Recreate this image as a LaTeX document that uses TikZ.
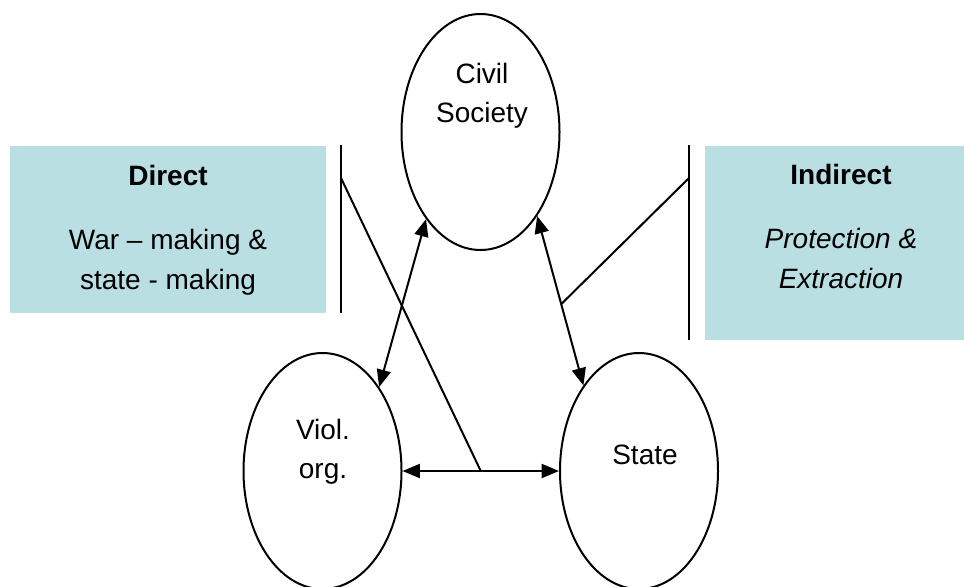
\documentclass[tikz,border=0pt]{standalone}
\usepackage{fontspec}
\setmainfont{Liberation Sans}
\usetikzlibrary{shapes.geometric,arrows.meta,calc}
\definecolor{boxteal}{RGB}{185,223,226}

\begin{document}
\begin{tikzpicture}[x=0.75pt,y=-0.75pt,line width=1.5pt,
  oval/.style={draw,ellipse,minimum width=118.5pt,minimum height=177pt,inner sep=0pt},
  ovaltext/.style={align=center,inner sep=0pt,font=\fontsize{21}{29}\selectfont},
  infobox/.style={fill=boxteal,inner sep=0pt},
  boxtext/.style={align=center,inner sep=0pt,anchor=north,font=\fontsize{21}{30}\selectfont},
  link/.style={{Triangle[length=13pt,width=10.5pt]}-{Triangle[length=13pt,width=10.5pt]}}]
  \useasboundingbox (0,0) rectangle (964,586);
  % the three actors
  \node[oval] (civil) at (480.5,132) {};
  \node[oval] (viol) at (322.5,471) {};
  \node[oval] (state) at (639,471) {};
  \node[ovaltext] (civiltext) at (482,96) {Civil\\Society};
  \node[ovaltext] (violtext) at (323,452) {Viol.\\org.};
  \node[ovaltext] (statetext) at (645,455) {State};
  % the two kinds of relation
  \node[infobox,minimum width=237pt,minimum height=125.25pt] (direct) at (168,229.5) {};
  \node[infobox,minimum width=194.25pt,minimum height=145.5pt] (indirect) at (834.5,243) {};
  \node[boxtext] (directtext) at (168,164) {\textbf{Direct}\\[18pt]War -- making \&\\state - making};
  \node[boxtext] (indirecttext) at (841,163) {\textbf{Indirect}\\[18pt]\textit{Protection \&}\\\textit{Extraction}};
  % brackets
  \coordinate (dtop) at (341,145);
  \coordinate (dbot) at (341,313);
  \coordinate (djoin) at (341,178);
  \coordinate (itop) at (689,145);
  \coordinate (ibot) at (689,340);
  \coordinate (ijoin) at (689,178);
  \draw (dtop) -- (dbot);
  \draw (itop) -- (ibot);
  % relations
  \draw[link] (civil.238.3) -- (viol.56.5);
  \draw[link] (civil.304.1) -- (state.123.7);
  \draw[link] (viol.east) -- (state.west);
  \draw (djoin) -- ($(viol.east)!0.5!(state.west)$);
  \draw (ijoin) -- ($(civil.304.1)!0.52!(state.123.7)$);
\end{tikzpicture}
\end{document}
